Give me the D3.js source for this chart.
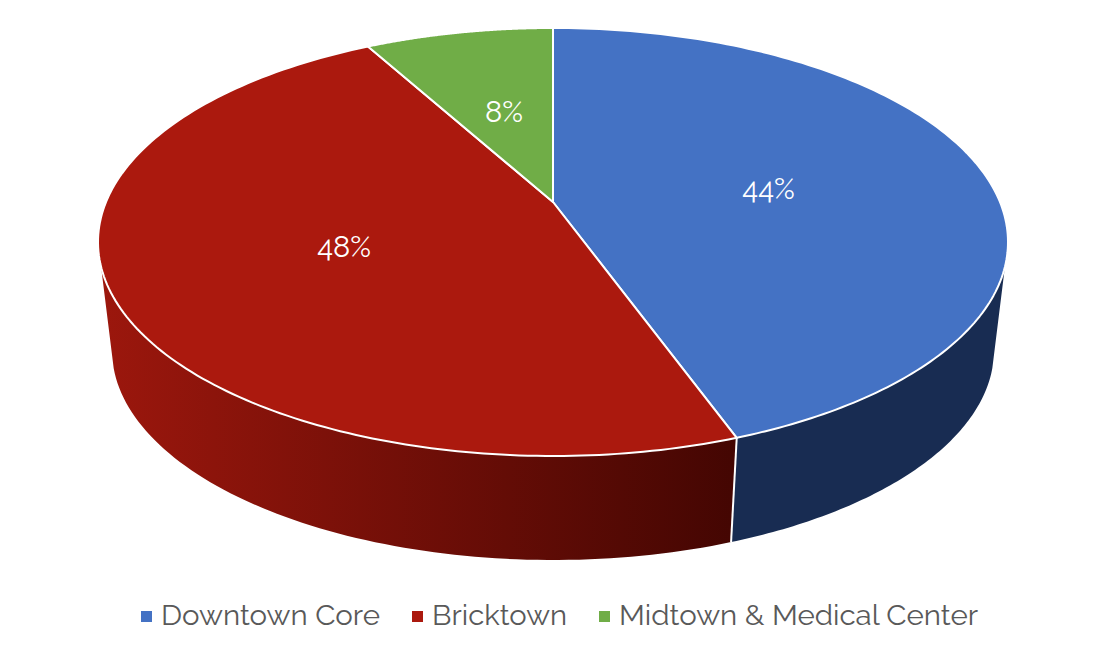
<!DOCTYPE html>
<html><head><meta charset="utf-8">
<script src="https://cdnjs.cloudflare.com/ajax/libs/d3/7.8.5/d3.min.js"></script>
<style>html,body{margin:0;padding:0;background:#fff}svg{display:block}</style></head>
<body><svg id="c" width="1098" height="652"></svg>
<script>
const categories = ["Downtown Core","Bricktown","Midtown & Medical Center"];
const values = [44.5,47.5,8.0];
const labels = ["44%","48%","8%"];
const colors = ["#4472C4","#AB190E","#70AD47"];
const sideColors = ["#182C52","url(#wall)","#3E6127"];

const FONT="Raleway, Lato, sans-serif";
const topEllipse={cx:553,cy:242,rx:455,ry:214};
const baseEllipse={cx:553,cy:350,rx:441,ry:210};
const tilt=40/214;   // perspective shift of the pie centre, as share of ry
const svg=d3.select("#c");
const defs=svg.append("defs");
const arcs=d3.pie().sort(null).value(d=>d)(values);

// circle angle -> position in the unit disc after perspective
const persp=a=>{
  const x=Math.sin(a),y=Math.cos(a),den=1+tilt*y;
  const k=Math.sqrt(1-tilt*tilt);
  return [x*k/den,(y+tilt)/den];
};
const param=a=>{
  let t=Math.atan2(persp(a)[0],persp(a)[1]);
  if(t<-1e-6) t+=2*Math.PI;
  return t;
};
const onEllipse=(e,t)=>[e.cx+e.rx*Math.sin(t),e.cy-e.ry*Math.cos(t)];
const line=d3.line();
const steps=(a,b,n)=>d3.range(n+1).map(i=>a+(b-a)*i/n);

// side walls
const grad=defs.append("linearGradient").attr("id","wall").attr("gradientUnits","userSpaceOnUse")
  .attr("x1",100).attr("x2",735).attr("y1",0).attr("y2",0);
grad.append("stop").attr("offset",0).attr("stop-color","#9C170D");
grad.append("stop").attr("offset",1).attr("stop-color","#440602");

const baseMargin=5*Math.PI/180; // the silhouette lands a little below the widest point of the base
arcs.forEach((d,i)=>{
  const s=Math.max(param(d.startAngle),Math.PI/2);
  const e=Math.min(d.endAngle>=2*Math.PI-1e-6?2*Math.PI:param(d.endAngle),3*Math.PI/2);
  if(e<=s) return;
  const bs=Math.max(s,Math.PI/2+baseMargin), be=Math.min(e,3*Math.PI/2-baseMargin);
  const pts=steps(s,e,80).map(t=>onEllipse(topEllipse,t))
    .concat(steps(be,bs,80).map(t=>onEllipse(baseEllipse,t)));
  svg.append("path").attr("d",line(pts)+"Z").attr("fill",sideColors[i]);
  const t=param(d.startAngle);
  if(t>Math.PI/2 && t<3*Math.PI/2){
    svg.append("path").attr("d",line([onEllipse(topEllipse,t),onEllipse(baseEllipse,t)]))
      .attr("stroke","#fff").attr("stroke-width",2).attr("fill","none");
  }
});

// top face
const apex=[topEllipse.cx,topEllipse.cy-tilt*topEllipse.ry];
arcs.forEach((d,i)=>{
  const t0=param(d.startAngle);
  const t1=d.endAngle>=2*Math.PI-1e-6?2*Math.PI:param(d.endAngle);
  const pts=[apex].concat(steps(t0,t1,160).map(t=>onEllipse(topEllipse,t)));
  svg.append("path").attr("d",line(pts)+"Z").attr("fill",colors[i])
    .attr("stroke","#fff").attr("stroke-width",2).attr("stroke-linejoin","round");
});

// data labels
const labelPos=[[768.5,199],[344,256.5],[504,121.5]];
labels.forEach((t,i)=>{
  svg.append("text").attr("x",labelPos[i][0]).attr("y",labelPos[i][1]).attr("text-anchor","middle")
    .attr("font-family",FONT).attr("font-size",29).attr("fill","#fff").text(t);
});

// legend
const legX=[141,412,599];
const legW=[219,135,359];
categories.forEach((t,i)=>{
  svg.append("rect").attr("x",legX[i]).attr("y",611).attr("width",11).attr("height",11).attr("fill",colors[i]);
  svg.append("text").attr("x",legX[i]+20).attr("y",625).attr("font-family",FONT).attr("font-size",28)
    .attr("fill","#595959").attr("textLength",legW[i]).attr("lengthAdjust","spacingAndGlyphs").text(t);
});
</script></body></html>
